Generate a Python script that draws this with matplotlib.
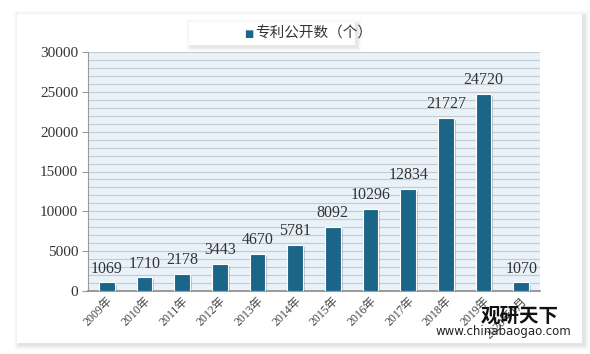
import matplotlib
matplotlib.use("Agg")
import matplotlib.pyplot as plt
import matplotlib.patheffects as pe
from matplotlib.patches import Rectangle

categories = ["2009年", "2010年", "2011年", "2012年", "2013年", "2014年", "2015年",
              "2016年", "2017年", "2018年", "2019年", "2020年1月"]
values = [1069, 1710, 2178, 3443, 4670, 5781, 8092, 10296, 12834, 21727, 24720, 1070]
series_name = "专利公开数（个）"
yticks = [0, 5000, 10000, 15000, 20000, 25000, 30000]

plt.rcParams['font.family'] = ['Liberation Serif', 'Noto Sans CJK SC', 'DejaVu Sans']

fig = plt.figure(figsize=(5.9, 3.54), dpi=100)
fig.patch.set_facecolor("white")
W, H = 590, 354


def soft_box(x0, y0, w, h, z, steps=6, amax=0.035, off=2):
    for i in range(steps):
        d = steps - i
        fig.patches.append(Rectangle(((x0 - d + off) / W, 1 - (y0 + h + d + off) / H),
                                     (w + 2 * d) / W, (h + 2 * d) / H,
                                     transform=fig.transFigure, facecolor="black",
                                     alpha=amax * (i + 1) / steps, edgecolor="none", zorder=z))
    fig.patches.append(Rectangle((x0 / W, 1 - (y0 + h) / H), w / W, h / H,
                                 transform=fig.transFigure, facecolor="white",
                                 edgecolor="none", zorder=z + 0.5))


soft_box(17, 14, 565, 329, 0, steps=6, amax=0.03, off=2)

ax = fig.add_axes([88 / W, 1 - 291 / H, 452 / W, 239 / H])
ax.set_zorder(2)
ax.set_facecolor("#eaf2f9")
ax.set_ylim(0, 30000)
ax.set_xlim(-0.5, len(categories) - 0.5)
ax.set_yticks(yticks)
ax.set_yticks(range(0, 30001, 1000), minor=True)
ax.yaxis.grid(True, which="both", color="#c5cad0", linewidth=0.8)
ax.set_axisbelow(True)
for s in ["top", "right"]:
    ax.spines[s].set_visible(False)
ax.spines["left"].set_color("#9a9a9a")
ax.spines["bottom"].set_color("#8a8a8a")
ax.spines["bottom"].set_linewidth(1.2)
ax.tick_params(axis="y", which="major", length=4, color="#9a9a9a", labelsize=11,
               labelcolor="#333333", pad=3)
ax.tick_params(axis="y", which="minor", length=0)
ax.tick_params(axis="x", length=0, labelsize=8.5, labelcolor="#444444", pad=3)

x = list(range(len(categories)))
bars = ax.bar(x, values, width=0.42, color="#1b6688", edgecolor="white", linewidth=0.8,
              zorder=3, label=series_name)
for b in bars:
    b.set_path_effects([pe.SimplePatchShadow(offset=(1.5, -1.5), alpha=0.18, shadow_rgbFace="black"),
                        pe.Normal()])
for xi, v in zip(x, values):
    ax.text(xi, v + 700, str(v), ha="center", va="bottom", fontsize=11.5, color="#333333", zorder=4)

ax.set_xticks(x)
ax.set_xticklabels(categories, rotation=45, ha="right", rotation_mode="anchor")

# legend box with shadow
soft_box(189, 22, 166, 23, 3, steps=5, amax=0.03, off=2)
fig.text(249 / W, 1 - 33.5 / H, "■", fontsize=7, color="#1b6688", ha="center", va="center",
         family=['DejaVu Sans'], zorder=5)
fig.text(255 / W, 1 - 33.5 / H, series_name, fontsize=10.5, color="#333333",
         ha="left", va="center", family=['Noto Sans CJK SC', 'DejaVu Sans'], zorder=5)

# watermark
fig.text(520 / W, 1 - 316 / H, "观研天下", fontsize=14, fontweight="bold", color="#111111",
         ha="center", va="center", family=['Noto Sans CJK SC'], zorder=6)
fig.text(503 / W, 1 - 331 / H, "www.chinabaogao.com", fontsize=8.5, color="#222222",
         ha="center", va="center", family=['DejaVu Sans'], zorder=6)

fig.savefig("out.png", dpi=100)
